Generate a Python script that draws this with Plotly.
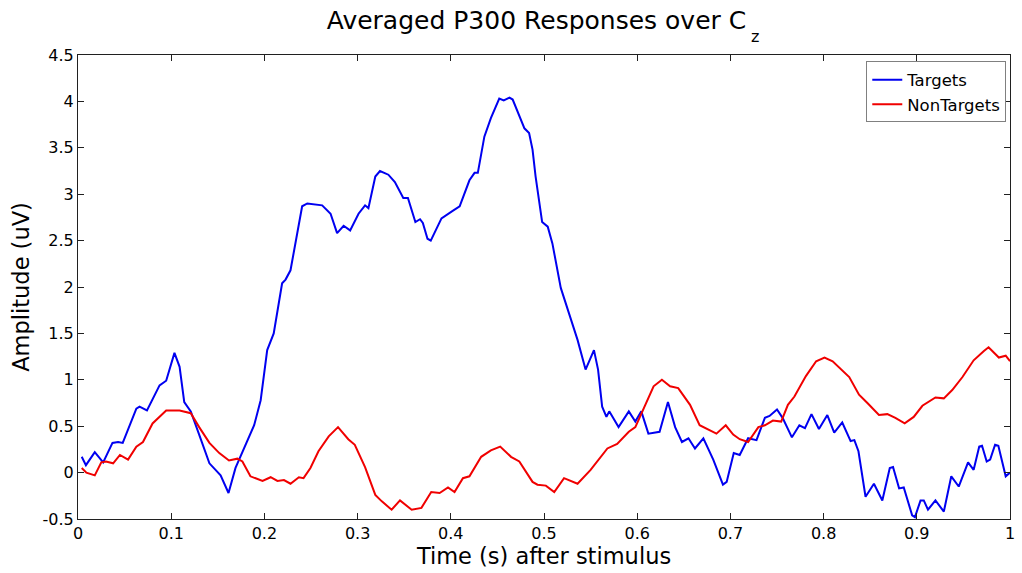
import plotly.graph_objects as go

# ---- data ----
t_targets = [0.004, 0.0085, 0.018, 0.027, 0.037, 0.043, 0.048, 0.0626, 0.066, 0.074, 0.0875, 0.0946,
             0.1035, 0.109, 0.114, 0.121, 0.130, 0.141, 0.153, 0.1615, 0.169, 0.180, 0.189, 0.196,
             0.203, 0.210, 0.2156, 0.219, 0.2227, 0.228, 0.2405, 0.246, 0.262, 0.271, 0.278, 0.285,
             0.292, 0.301, 0.308, 0.3116, 0.319, 0.324, 0.333, 0.340, 0.349, 0.354, 0.362, 0.367,
             0.370, 0.375, 0.3785, 0.390, 0.402, 0.4095, 0.420, 0.4255, 0.429, 0.436, 0.443, 0.452,
             0.4568, 0.463, 0.4664, 0.4735, 0.479, 0.484, 0.4877, 0.491, 0.498, 0.504, 0.509, 0.518,
             0.527, 0.536, 0.5446, 0.5536, 0.558, 0.5624, 0.567, 0.570, 0.580, 0.591, 0.598, 0.6044,
             0.612, 0.624, 0.633, 0.6407, 0.648, 0.655, 0.662, 0.671, 0.6816, 0.692, 0.696, 0.7036,
             0.710, 0.719, 0.728, 0.737, 0.742, 0.750, 0.756, 0.766, 0.774, 0.780, 0.787, 0.795,
             0.804, 0.8114, 0.820, 0.829, 0.833, 0.8374, 0.845, 0.854, 0.863, 0.871, 0.8745, 0.881,
             0.886, 0.895, 0.898, 0.904, 0.9075, 0.912, 0.920, 0.929, 0.937, 0.945, 0.955, 0.961,
             0.967, 0.970, 0.975, 0.9787, 0.984, 0.9875, 0.9954, 1.0]
v_targets = [0.17, 0.08, 0.22, 0.11, 0.32, 0.33, 0.32, 0.69, 0.71, 0.67, 0.94, 0.99,
             1.29, 1.14, 0.76, 0.66, 0.41, 0.10, -0.03, -0.22, 0.05, 0.30, 0.51, 0.78,
             1.32, 1.50, 1.86, 2.04, 2.08, 2.18, 2.87, 2.90, 2.88, 2.79, 2.58, 2.66,
             2.61, 2.79, 2.88, 2.85, 3.19, 3.25, 3.21, 3.13, 2.96, 2.96, 2.70, 2.73,
             2.69, 2.52, 2.50, 2.74, 2.82, 2.87, 3.15, 3.23, 3.23, 3.62, 3.82, 4.03,
             4.01, 4.04, 4.02, 3.85, 3.71, 3.66, 3.48, 3.19, 2.70, 2.65, 2.47, 1.99,
             1.72, 1.43, 1.11, 1.32, 1.11, 0.71, 0.60, 0.66, 0.49, 0.66, 0.55, 0.66,
             0.42, 0.44, 0.76, 0.49, 0.33, 0.37, 0.26, 0.37, 0.14, -0.13, -0.10, 0.21,
             0.19, 0.37, 0.35, 0.59, 0.61, 0.68, 0.59, 0.38, 0.51, 0.48, 0.63, 0.47,
             0.62, 0.43, 0.54, 0.34, 0.35, 0.23, -0.26, -0.12, -0.30, 0.05, 0.06, -0.17,
             -0.16, -0.46, -0.48, -0.30, -0.30, -0.40, -0.30, -0.42, -0.04, -0.15, 0.11, 0.03,
             0.28, 0.29, 0.12, 0.14, 0.30, 0.29, -0.04, 0.00]

t_nontargets = [0.004, 0.009, 0.018, 0.025, 0.030, 0.0377, 0.045, 0.0537, 0.0626, 0.0697, 0.080,
                0.0946, 0.109, 0.121, 0.130, 0.141, 0.1516, 0.162, 0.171, 0.1764, 0.185, 0.198,
                0.2067, 0.214, 0.221, 0.228, 0.237, 0.242, 0.2494, 0.258, 0.269, 0.279, 0.290,
                0.297, 0.308, 0.319, 0.326, 0.3365, 0.3455, 0.358, 0.3685, 0.379, 0.388, 0.397,
                0.404, 0.413, 0.420, 0.4326, 0.443, 0.453, 0.4646, 0.4735, 0.4877, 0.493, 0.502,
                0.511, 0.5215, 0.527, 0.536, 0.550, 0.568, 0.5785, 0.591, 0.598, 0.607, 0.6176,
                0.6265, 0.6353, 0.644, 0.6567, 0.667, 0.678, 0.685, 0.695, 0.703, 0.710, 0.719,
                0.730, 0.737, 0.7456, 0.7545, 0.7617, 0.7687, 0.781, 0.792, 0.801, 0.8097, 0.8275,
                0.838, 0.847, 0.8594, 0.8684, 0.877, 0.887, 0.8967, 0.906, 0.920, 0.929, 0.938,
                0.949, 0.961, 0.972, 0.977, 0.981, 0.988, 0.9954, 1.0]
v_nontargets = [0.05, 0.00, -0.03, 0.11, 0.12, 0.10, 0.19, 0.14, 0.28, 0.33, 0.53,
                0.67, 0.67, 0.64, 0.49, 0.32, 0.21, 0.13, 0.15, 0.12, -0.04, -0.09,
                -0.05, -0.09, -0.08, -0.12, -0.05, -0.06, 0.05, 0.23, 0.39, 0.49, 0.36,
                0.30, 0.06, -0.24, -0.31, -0.40, -0.30, -0.40, -0.38, -0.21, -0.22, -0.16,
                -0.21, -0.06, -0.04, 0.17, 0.24, 0.28, 0.17, 0.12, -0.10, -0.13, -0.14,
                -0.21, -0.06, -0.08, -0.12, 0.03, 0.26, 0.31, 0.44, 0.49, 0.69, 0.93,
                1.00, 0.93, 0.91, 0.73, 0.51, 0.46, 0.42, 0.51, 0.41, 0.36, 0.33,
                0.49, 0.51, 0.56, 0.55, 0.73, 0.82, 1.04, 1.20, 1.24, 1.20, 1.03,
                0.84, 0.75, 0.62, 0.63, 0.59, 0.53, 0.60, 0.72, 0.81, 0.80, 0.89,
                1.03, 1.21, 1.31, 1.35, 1.31, 1.24, 1.26, 1.20]

x_tickvals = [0, 0.1, 0.2, 0.3, 0.4, 0.5, 0.6, 0.7, 0.8, 0.9, 1]
x_ticktext = ["0", "0.1", "0.2", "0.3", "0.4", "0.5", "0.6", "0.7", "0.8", "0.9", "1"]
y_tickvals = [-0.5, 0, 0.5, 1, 1.5, 2, 2.5, 3, 3.5, 4, 4.5]
y_ticktext = ["-0.5", "0", "0.5", "1", "1.5", "2", "2.5", "3", "3.5", "4", "4.5"]

series_names = ["Targets", "NonTargets"]
title_main = "Averaged P300 Responses over C"
title_sub = "z"
x_title = "Time (s) after stimulus"
y_title = "Amplitude (uV)"

FONT = "DejaVu Sans, Liberation Sans, Arial, sans-serif"

fig = go.Figure()
fig.add_trace(go.Scatter(x=t_targets, y=v_targets, mode="lines", name=series_names[0],
                         line=dict(color="#0000f0", width=2)))
fig.add_trace(go.Scatter(x=t_nontargets, y=v_nontargets, mode="lines", name=series_names[1],
                         line=dict(color="#f00000", width=2)))

axis_common = dict(showgrid=False, zeroline=False, showline=True, linecolor="#202020", linewidth=1,
                   mirror="allticks", ticks="inside", ticklen=6, tickcolor="#202020",
                   tickfont=dict(family=FONT, size=16, color="black"))

fig.update_xaxes(range=[0, 1], tickvals=x_tickvals, ticktext=x_ticktext,
                 title=dict(text=x_title, font=dict(family=FONT, size=22.5, color="black"),
                            standoff=0), **axis_common)
fig.update_yaxes(range=[-0.5, 4.5], tickvals=y_tickvals, ticktext=y_ticktext,
                 title=dict(text=y_title, font=dict(family=FONT, size=22.5, color="black"),
                            standoff=6), **axis_common)

fig.update_layout(
    width=1022, height=573,
    margin=dict(l=78, r=7, t=55, b=54),
    paper_bgcolor="white", plot_bgcolor="white",
    title=dict(text=title_main, x=536.5 / 1022, xanchor="center",
               y=0.965, yanchor="middle", font=dict(family=FONT, size=25, color="black")),
    legend=dict(x=0.996, xanchor="right", y=0.986, yanchor="top", bgcolor="white",
                bordercolor="#808080", borderwidth=1, font=dict(family=FONT, size=16.5, color="black"),
                itemwidth=30, tracegroupgap=0),
    showlegend=True,
)

fig.add_annotation(text=title_sub, xref="paper", yref="paper",
                   x=(758.5 - 78) / 937, y=(519 - 36) / 464, xanchor="center", yanchor="middle",
                   showarrow=False, font=dict(family=FONT, size=16, color="black"))

fig.write_html("out.html")
